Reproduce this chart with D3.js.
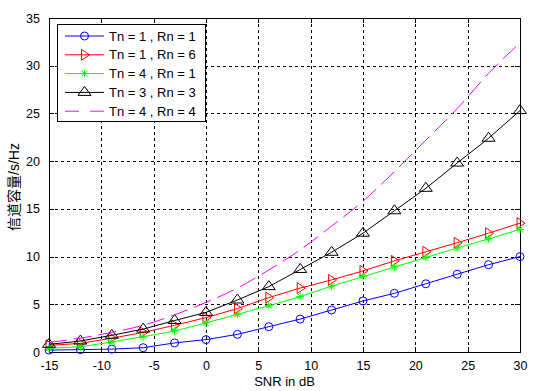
<html>
<head>
<script src="https://d3js.org/d3.v7.min.js"></script>
<style>
  body { margin: 0; background: #fff; }
  text { font-family: "Liberation Sans", Arial, sans-serif; fill: #000; }
  .grid { stroke: #000; stroke-width: 1px; stroke-dasharray: 3,3; shape-rendering: crispEdges; }
</style>
</head>
<body>
<svg width="548" height="391" id="chart"></svg>
<script>
// SNR points (dB) and capacities
const snr = [-15, -12, -9, -6, -3, 0, 3, 6, 9, 12, 15, 18, 21, 24, 27, 30];
const capT1R1 = [0.2, 0.25, 0.3, 0.45, 0.95, 1.3, 1.85, 2.65, 3.45, 4.4, 5.35, 6.15, 7.15, 8.15, 9.15, 10.0];
const capT1R6 = [0.7, 0.9, 1.45, 2.05, 2.8, 3.6, 4.55, 5.7, 6.7, 7.55, 8.5, 9.55, 10.5, 11.45, 12.45, 13.5];
const capT4R1 = [0.4, 0.55, 1.05, 1.6, 2.2, 3.05, 3.95, 4.85, 5.8, 6.9, 7.9, 8.9, 9.9, 10.9, 11.85, 12.85];
const capT3R3 = [0.8, 1.15, 1.75, 2.4, 3.3, 4.15, 5.45, 6.85, 8.65, 10.45, 12.45, 14.8, 17.15, 19.8, 22.4, 25.3];
const capT4R4 = [1.0, 1.45, 2.05, 2.8, 3.9, 5.2, 6.7, 8.6, 10.7, 13.2, 15.8, 18.9, 22.2, 25.5, 29.2, 32.4];

const xTicks = [-15, -10, -5, 0, 5, 10, 15, 20, 25, 30];
const yTicks = [0, 5, 10, 15, 20, 25, 30, 35];

const seriesNames = ["Tn = 1 , Rn = 1", "Tn = 1 , Rn = 6", "Tn = 4 , Rn = 1", "Tn = 3 , Rn = 3", "Tn = 4 , Rn = 4"];
const seriesColors = ["#0000ff", "#ff0000", "#00ff00", "#000000", "#ff00ff"];
const seriesMarkers = ["circle", "right", "star", "up", "none"];
const seriesData = [capT1R1, capT1R6, capT4R1, capT3R3, capT4R4];

const svg = d3.select("#chart");
const plotL = 49, plotR = 520, plotT = 18, plotB = 352;

const x = d3.scaleLinear().domain([-15, 30]).range([plotL, plotR]);
const y = d3.scaleLinear().domain([0, 35]).range([plotB, plotT]);

// grid
svg.append("g").selectAll("line").data(xTicks.slice(1, -1)).enter().append("line")
  .attr("class", "grid")
  .attr("x1", d => Math.round(x(d)) + 0.5).attr("x2", d => Math.round(x(d)) + 0.5)
  .attr("y1", plotT).attr("y2", plotB);
svg.append("g").selectAll("line").data(yTicks.slice(1, -1)).enter().append("line")
  .attr("class", "grid")
  .attr("y1", d => Math.round(y(d)) + 0.5).attr("y2", d => Math.round(y(d)) + 0.5)
  .attr("x1", plotL).attr("x2", plotR);

// axes (ticks inside, on all four sides, like matlab)
const tickLen = 5;
const plain = d => String(d);
const xAxisB = d3.axisBottom(x).tickValues(xTicks).tickSize(-tickLen).tickPadding(tickLen + 4).tickFormat(plain);
const xAxisT = d3.axisTop(x).tickValues(xTicks).tickSize(-tickLen).tickFormat("");
const yAxisL = d3.axisLeft(y).tickValues(yTicks).tickSize(-tickLen).tickPadding(tickLen + 4).tickFormat(plain);
const yAxisR = d3.axisRight(y).tickValues(yTicks).tickSize(-tickLen).tickFormat("");

function styleAxis(g) {
  g.selectAll(".domain").remove();
  g.selectAll("line").attr("stroke", "#000").attr("shape-rendering", "crispEdges");
  g.selectAll("text").style("font-size", "12.5px").attr("fill", "#000")
    .style("font-family", "'Liberation Sans', Arial, sans-serif");
}
svg.append("g").attr("transform", `translate(0,${plotB})`).call(xAxisB).call(styleAxis);
svg.append("g").attr("transform", `translate(0,${plotT})`).call(xAxisT).call(styleAxis);
svg.append("g").attr("transform", `translate(${plotL},0)`).call(yAxisL).call(styleAxis);
svg.append("g").attr("transform", `translate(${plotR},0)`).call(yAxisR).call(styleAxis);

svg.append("rect")
  .attr("x", plotL + 0.5).attr("y", plotT + 0.5)
  .attr("width", plotR - plotL).attr("height", plotB - plotT)
  .attr("fill", "none").attr("stroke", "#000").attr("shape-rendering", "crispEdges");

// marker shapes
function markerPath(type) {
  if (type === "circle") return "M-4,0A4,4 0 1,0 4,0A4,4 0 1,0 -4,0Z";
  if (type === "right") return "M-3,-5.5L5,0L-3,5.5Z";
  if (type === "up") return "M0,-6L6.5,3L-6.5,3Z";
  if (type === "star") return "M-4,0L4,0M0,-4L0,4M-3,-3L3,3M-3,3L3,-3";
  return "";
}

const line = d3.line().x((d, i) => x(snr[i])).y(d => y(d));
const smooth = d3.line().x((d, i) => x(snr[i])).y(d => y(d)).curve(d3.curveMonotoneX);

seriesData.forEach((vals, k) => {
  const g = svg.append("g");
  g.append("path")
    .attr("d", seriesMarkers[k] === "none" ? smooth(vals) : line(vals))
    .attr("fill", "none")
    .attr("stroke", seriesColors[k])
    .attr("stroke-width", 1)
    .attr("stroke-dasharray", seriesMarkers[k] === "none" ? "18,7" : null);
  if (seriesMarkers[k] !== "none") {
    g.selectAll("path.mk").data(vals).enter().append("path")
      .attr("class", "mk")
      .attr("transform", (d, i) => `translate(${x(snr[i])},${y(d)})`)
      .attr("d", markerPath(seriesMarkers[k]))
      .attr("fill", "none")
      .attr("stroke", seriesColors[k])
      .attr("stroke-width", 1);
  }
});

// legend
const leg = svg.append("g");
leg.append("rect")
  .attr("x", 57.5).attr("y", 24.5).attr("width", 148).attr("height", 97)
  .attr("fill", "#fff").attr("stroke", "#000").attr("shape-rendering", "crispEdges");
seriesNames.forEach((name, k) => {
  const cy = 36 + k * 18.8;
  leg.append("line")
    .attr("x1", 65).attr("x2", 104).attr("y1", cy).attr("y2", cy)
    .attr("stroke", seriesColors[k])
    .attr("stroke-dasharray", seriesMarkers[k] === "none" ? "14,11" : null);
  if (seriesMarkers[k] !== "none") {
    leg.append("path")
      .attr("transform", `translate(84.5,${cy})`)
      .attr("d", markerPath(seriesMarkers[k]))
      .attr("fill", "none").attr("stroke", seriesColors[k]);
  }
  leg.append("text")
    .attr("x", 109).attr("y", cy).attr("dy", "0.35em")
    .style("font-size", "13px")
    .text(name);
});

// axis titles
svg.append("text")
  .attr("x", (plotL + plotR) / 2).attr("y", 386)
  .attr("text-anchor", "middle")
  .style("font-size", "13px")
  .text("SNR in dB");

svg.append("text")
  .attr("transform", `translate(19,${(plotT + plotB) / 2 + 2}) rotate(-90)`)
  .attr("text-anchor", "middle")
  .style("font-size", "14px")
  .style("font-family", "'Liberation Sans', 'Noto Sans CJK SC', sans-serif")
  .text("信道容量/s/Hz");
</script>
</body>
</html>
